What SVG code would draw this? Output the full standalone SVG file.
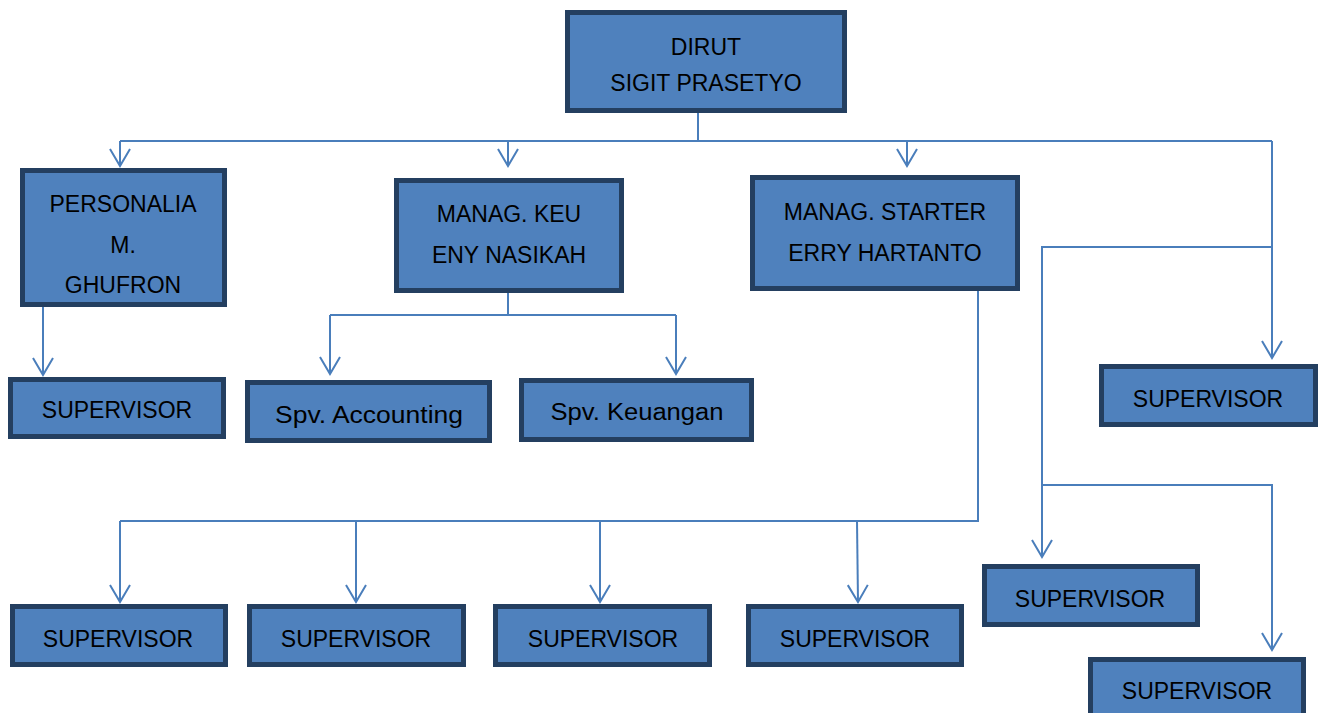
<svg xmlns="http://www.w3.org/2000/svg" width="1320" height="713" viewBox="0 0 1320 713">
<style>
.box{fill:#4F81BD;stroke:#243F60;stroke-width:5}
.t{font-family:"Liberation Sans",Arial,sans-serif;font-size:23px;fill:#000;text-anchor:middle}
.c{fill:none;stroke:#4A7EBB;stroke-width:2}
</style>
<defs>
<marker id="ah" markerUnits="userSpaceOnUse" markerWidth="24" markerHeight="24" viewBox="-20 -12 22 24" refX="0" refY="0" orient="auto" overflow="visible">
<path d="M-17,-10 L0,0 L-17,10" fill="none" stroke="#4A7EBB" stroke-width="2"/>
</marker>
</defs>
<g id="connectors" class="c">
<path d="M698,113 V141 M120,141 H1272"/>
<path d="M120,141 V166" marker-end="url(#ah)"/>
<path d="M508,141 V166" marker-end="url(#ah)"/>
<path d="M907,141 V166" marker-end="url(#ah)"/>
<path d="M1272,141 V358" marker-end="url(#ah)"/>
<path d="M1272,247 H1042 V557" marker-end="url(#ah)"/>
<path d="M1042,485 H1272 V650" marker-end="url(#ah)"/>
<path d="M43,307 V375" marker-end="url(#ah)"/>
<path d="M508,293 V315 M330,315 H676"/>
<path d="M330,315 V374" marker-end="url(#ah)"/>
<path d="M676,315 V374" marker-end="url(#ah)"/>
<path d="M978,291 V521 H120"/>
<path d="M120,521 V602" marker-end="url(#ah)"/>
<path d="M356,521 V602" marker-end="url(#ah)"/>
<path d="M600,521 V602" marker-end="url(#ah)"/>
<path d="M857,521 L858,602" marker-end="url(#ah)"/>
</g>
<g id="dirut">
<rect class="box" x="567.5" y="12.5" width="277" height="98"/>
<text class="t" x="706" y="55">DIRUT</text>
<text class="t" x="706" y="91">SIGIT PRASETYO</text>
</g>
<g id="personalia">
<rect class="box" x="22.5" y="170.5" width="202" height="134"/>
<text class="t" x="123" y="212">PERSONALIA</text>
<text class="t" x="123" y="253">M.</text>
<text class="t" x="123" y="293">GHUFRON</text>
</g>
<g id="manag-keu">
<rect class="box" x="396.5" y="180.5" width="225" height="110"/>
<text class="t" x="509" y="222">MANAG. KEU</text>
<text class="t" x="509" y="263">ENY NASIKAH</text>
</g>
<g id="manag-starter">
<rect class="box" x="752.5" y="177.5" width="265" height="111"/>
<text class="t" x="885" y="220">MANAG. STARTER</text>
<text class="t" x="885" y="261">ERRY HARTANTO</text>
</g>
<g id="spv-personalia">
<rect class="box" x="10.5" y="379.5" width="213" height="57"/>
<text class="t" x="117" y="418">SUPERVISOR</text>
</g>
<g id="spv-accounting">
<rect class="box" x="247.5" y="382.5" width="242" height="58"/>
<text class="t" x="369" y="423" textLength="188" lengthAdjust="spacingAndGlyphs">Spv. Accounting</text>
</g>
<g id="spv-keuangan">
<rect class="box" x="521.5" y="380.5" width="230" height="59"/>
<text class="t" x="637" y="420" textLength="173" lengthAdjust="spacingAndGlyphs">Spv. Keuangan</text>
</g>
<g id="spv-right">
<rect class="box" x="1101.5" y="366.5" width="214" height="58"/>
<text class="t" x="1208" y="407">SUPERVISOR</text>
</g>
<g id="spv-mid-right">
<rect class="box" x="984.5" y="566.5" width="213" height="58"/>
<text class="t" x="1090" y="607">SUPERVISOR</text>
</g>
<g id="spv-bottom-right">
<rect class="box" x="1090.5" y="659.5" width="213" height="60"/>
<text class="t" x="1197" y="699">SUPERVISOR</text>
</g>
<g id="spv-bottom-1">
<rect class="box" x="12.5" y="606.5" width="213" height="58"/>
<text class="t" x="118" y="647">SUPERVISOR</text>
</g>
<g id="spv-bottom-2">
<rect class="box" x="249.5" y="606.5" width="214" height="58"/>
<text class="t" x="356" y="647">SUPERVISOR</text>
</g>
<g id="spv-bottom-3">
<rect class="box" x="495.5" y="606.5" width="214" height="58"/>
<text class="t" x="603" y="647">SUPERVISOR</text>
</g>
<g id="spv-bottom-4">
<rect class="box" x="748.5" y="606.5" width="213" height="58"/>
<text class="t" x="855" y="647">SUPERVISOR</text>
</g>
</svg>
